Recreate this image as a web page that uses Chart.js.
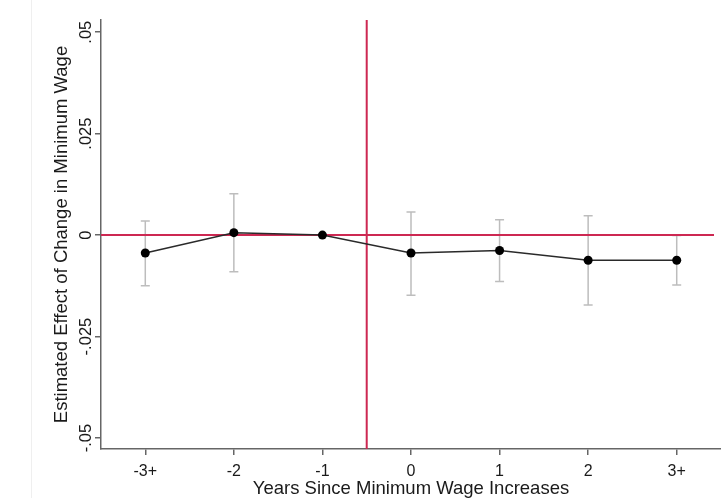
<!DOCTYPE html>
<html>
<head>
<meta charset="utf-8">
<script src="https://cdn.jsdelivr.net/npm/chart.js@4/dist/chart.umd.min.js"></script>
<style>
  html, body { margin: 0; padding: 0; background: #ffffff; }
  #wrap { width: 721px; height: 498px; position: relative; overflow: hidden; }
</style>
</head>
<body>
<div id="wrap"><canvas id="c" width="721" height="498"></canvas></div>
<script>
// Event-study estimates: years relative to a minimum wage increase
const years = ['-3+', '-2', '-1', '0', '1', '2', '3+'];
const estimates = [-0.0044, 0.0006, 0, -0.0044, -0.0038, -0.0062, -0.0062];
const ciLower = [-0.0125, -0.0090, 0, -0.0148, -0.0114, -0.0172, -0.0123];
const ciUpper = [0.0035, 0.0102, 0, 0.0057, 0.0038, 0.0048, -0.0001];
const yTickValues = [-0.05, -0.025, 0, 0.025, 0.05];
const yTickLabels = ['-.05', '-.025', '0', '.025', '.05'];
const eventLine = 2.5; // between -1 and 0

const FONT = "'Liberation Sans', Arial, Helvetica, sans-serif";
const RED = 'rgb(205, 40, 82)';
const AXIS = '#666666';

const whiteBg = {
  id: 'whiteBg',
  beforeDraw(chart) {
    const ctx = chart.ctx;
    ctx.save();
    ctx.fillStyle = '#ffffff';
    ctx.fillRect(0, 0, chart.width, chart.height);
    // faint page edge at the left
    ctx.strokeStyle = '#efefef';
    ctx.lineWidth = 1;
    ctx.beginPath();
    ctx.moveTo(31.5, 0);
    ctx.lineTo(31.5, chart.height);
    ctx.stroke();
    ctx.restore();
  }
};

// Confidence intervals and reference lines, drawn beneath the estimate line
const intervals = {
  id: 'intervals',
  beforeDatasetsDraw(chart) {
    const { ctx, chartArea, scales } = chart;
    const x = scales.x, y = scales.y;
    ctx.save();
    ctx.strokeStyle = '#bdbdbd';
    ctx.lineWidth = 1.5;
    const cap = 4.5;
    for (let i = 0; i < years.length; i++) {
      if (ciLower[i] === ciUpper[i]) continue;
      const px = x.getPixelForValue(i);
      const lo = y.getPixelForValue(ciLower[i]);
      const hi = y.getPixelForValue(ciUpper[i]);
      ctx.beginPath();
      ctx.moveTo(px, lo); ctx.lineTo(px, hi);
      ctx.moveTo(px - cap, lo); ctx.lineTo(px + cap, lo);
      ctx.moveTo(px - cap, hi); ctx.lineTo(px + cap, hi);
      ctx.stroke();
    }
    ctx.strokeStyle = RED;
    ctx.lineWidth = 2;
    const y0 = y.getPixelForValue(0);
    ctx.beginPath();
    ctx.moveTo(chartArea.left, y0); ctx.lineTo(chartArea.right - 7, y0);
    const xv = x.getPixelForValue(eventLine);
    ctx.moveTo(xv, chartArea.top); ctx.lineTo(xv, chartArea.bottom);
    ctx.stroke();
    ctx.restore();
  },
  afterDraw(chart) {
    // rotated y tick labels
    const { ctx, scales } = chart;
    const y = scales.y;
    ctx.save();
    ctx.fillStyle = '#1a1a1a';
    ctx.font = '16.5px ' + FONT;
    ctx.textAlign = 'center';
    ctx.textBaseline = 'middle';
    for (let i = 0; i < yTickValues.length; i++) {
      const py = y.getPixelForValue(yTickValues[i]);
      ctx.save();
      ctx.translate(86, py);
      ctx.rotate(-Math.PI / 2);
      ctx.fillText(yTickLabels[i], 0, 0);
      ctx.restore();
    }
    ctx.restore();
  }
};

new Chart(document.getElementById('c'), {
  type: 'line',
  data: {
    labels: years,
    datasets: [{
      data: estimates,
      borderColor: '#2a2a2a',
      borderWidth: 1.5,
      pointRadius: 4.5,
      pointBackgroundColor: '#000000',
      pointBorderWidth: 0,
      tension: 0,
      fill: false,
      clip: false
    }]
  },
  options: {
    responsive: false,
    animation: false,
    devicePixelRatio: 1,
    layout: { autoPadding: false, padding: { top: 20, left: 0, right: -2, bottom: 0 } },
    plugins: { legend: { display: false }, tooltip: { enabled: false } },
    scales: {
      x: {
        type: 'category',
        offset: true,
        afterFit(scale) { scale.height = 49; },
        border: { display: true, color: AXIS, width: 1.5 },
        grid: { drawOnChartArea: false, drawTicks: true, tickLength: 6, color: AXIS, lineWidth: 1.5, offset: false },
        ticks: { color: '#1a1a1a', font: { family: FONT, size: 16 }, padding: 7, maxRotation: 0, autoSkip: false },
        title: { display: true, text: 'Years Since Minimum Wage Increases', color: '#1a1a1a', font: { family: FONT, size: 18.5, lineHeight: 1.0 }, padding: { top: 0, bottom: 0 } }
      },
      y: {
        min: -0.0527,
        max: 0.053,
        afterFit(scale) { scale.width = 101; },
        afterBuildTicks(scale) { scale.ticks = yTickValues.map(v => ({ value: v })); },
        border: { display: true, color: AXIS, width: 1.5 },
        grid: { drawOnChartArea: false, drawTicks: true, tickLength: 6, color: AXIS, lineWidth: 1.5 },
        ticks: { display: false },
        title: { display: true, text: 'Estimated Effect of Change in Minimum Wage', color: '#1a1a1a', font: { family: FONT, size: 18.5, lineHeight: 1.2 }, padding: { top: 51, bottom: 0 } }
      }
    }
  },
  plugins: [whiteBg, intervals]
});
</script>
</body>
</html>
